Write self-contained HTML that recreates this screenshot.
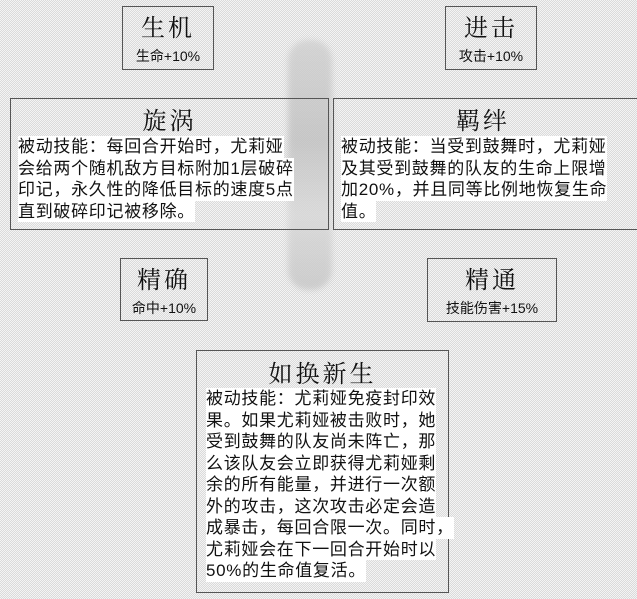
<!DOCTYPE html>
<html><head><meta charset="utf-8"><style>
body{margin:0;width:637px;height:599px;overflow:hidden;position:relative;
background-color:#e8e8e8;
background-image:repeating-conic-gradient(#dadada 0 25%,#f4f4f4 0 50%);background-size:2px 2px;
font-family:"Liberation Sans","Noto Sans CJK SC",sans-serif;color:#111}
.b{position:absolute;border:1.5px solid #555;box-sizing:border-box;z-index:1}
.t{position:absolute;left:0;right:0;text-align:center;font-family:"Liberation Serif","Noto Serif CJK SC",serif;font-size:24px;line-height:28px;letter-spacing:3px}
.s{position:absolute;left:0;right:0;text-align:center;font-size:14px;line-height:16px}
.p{position:absolute;font-size:17px;line-height:21.5px;letter-spacing:0.7px}
.p span{background:#fff;display:inline-block;white-space:nowrap}
.blob{position:absolute;left:288px;top:40px;width:44px;height:250px;z-index:0;
background:linear-gradient(180deg,#d0d0d0,#c0c0c0 40%,#d8d8d8 70%,#c6c6c6);filter:blur(3px);border-radius:20px;opacity:.8}
</style></head><body>
<div class="blob"></div>
<div class="b" style="left:122px;top:6px;width:92px;height:64px"><div class="t" style="top:8px">生机</div><div class="s" style="top:41px">生命+10%</div></div>
<div class="b" style="left:445px;top:6px;width:92px;height:64px"><div class="t" style="top:8px">进击</div><div class="s" style="top:41px">攻击+10%</div></div>
<div class="b" style="left:10px;top:98px;width:319px;height:132px"><div class="t" style="top:9px">旋涡</div>
<div class="p" style="left:7px;top:37px"><span>被动技能：每回合开始时，尤莉娅</span><br><span>会给两个随机敌方目标附加1层破碎</span><br><span>印记，永久性的降低目标的速度5点</span><br><span>直到破碎印记被移除。</span></div></div>
<div class="b" style="left:333px;top:98px;width:310px;height:132px"><div class="t" style="top:9px;right:10px">羁绊</div>
<div class="p" style="left:7px;top:37px"><span>被动技能：当受到鼓舞时，尤莉娅</span><br><span>及其受到鼓舞的队友的生命上限增</span><br><span>加20%，并且同等比例地恢复生命</span><br><span>值。</span></div></div>
<div class="b" style="left:120px;top:258px;width:88px;height:63px"><div class="t" style="top:8px">精确</div><div class="s" style="top:41px">命中+10%</div></div>
<div class="b" style="left:427px;top:258px;width:130px;height:64px"><div class="t" style="top:8px">精通</div><div class="s" style="top:41px">技能伤害+15%</div></div>
<div class="b" style="left:196px;top:350px;width:253px;height:243px"><div class="t" style="top:10px">如换新生</div>
<div class="p" style="left:9px;top:37px"><span>被动技能：尤莉娅免疫封印效</span><br><span>果。如果尤莉娅被击败时，她</span><br><span>受到鼓舞的队友尚未阵亡，那</span><br><span>么该队友会立即获得尤莉娅剩</span><br><span>余的所有能量，并进行一次额</span><br><span>外的攻击，这次攻击必定会造</span><br><span>成暴击，每回合限一次。同时，</span><br><span>尤莉娅会在下一回合开始时以</span><br><span>50%的生命值复活。</span></div></div>
</body></html>
